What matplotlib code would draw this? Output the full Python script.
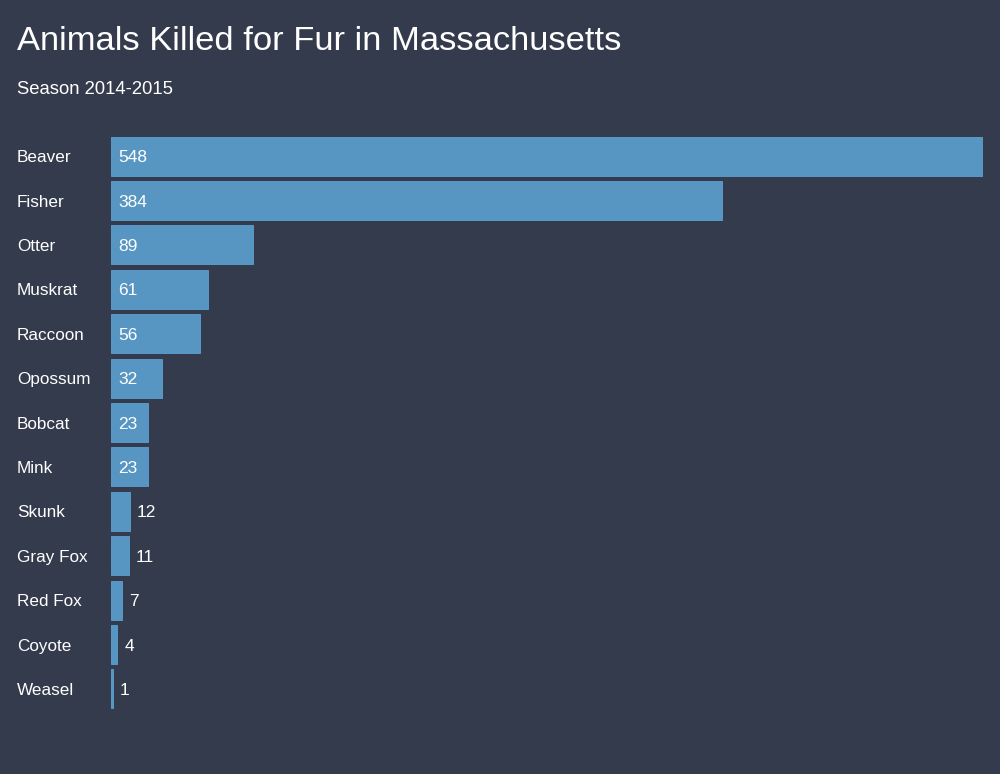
import matplotlib
matplotlib.use("Agg")
import matplotlib.pyplot as plt

# Data
ANIMALS = ["Beaver", "Fisher", "Otter", "Muskrat", "Raccoon", "Opossum",
           "Bobcat", "Mink", "Skunk", "Gray Fox", "Red Fox", "Coyote", "Weasel"]
KILLED = [548, 384, 89, 61, 56, 32, 23, 23, 12, 11, 7, 4, 1]

TITLE = "Animals Killed for Fur in Massachusetts"
SUBTITLE = "Season 2014-2015"

BG = "#343b4c"
BAR = "#5796c3"
EDGE = "#5c9fd2"
FONT = "Liberation Sans"

W, H = 1000, 774


def main():
    fig = plt.figure(figsize=(W / 100, H / 100), dpi=100, facecolor=BG)
    # axes spans x 111..983 px, y 134..711 px
    ax = fig.add_axes([111 / W, 1 - 711 / H, 872 / W, 577 / H])
    ax.set_facecolor(BG)

    ypos = list(range(len(ANIMALS)))
    ax.barh(ypos, KILLED, height=0.88, color=BAR, edgecolor=EDGE,
            linewidth=0.6)
    ax.set_xlim(0, max(KILLED))
    ax.set_ylim(len(ANIMALS) - 0.5, -0.5)
    ax.axis("off")

    px = max(KILLED) / 872.0  # data units per pixel
    dy = 1.6 / 44.3            # nudge text down ~1.6 px
    for y, name, v in zip(ypos, ANIMALS, KILLED):
        ax.text(-94 * px, y + dy, name, ha="left", va="center", color="white",
                fontsize=12.3, family=FONT, clip_on=False)
        if v * (1 / px) > 30:
            ax.text(7 * px, y + dy, str(v), ha="left", va="center",
                    color="white", fontsize=12.5, family=FONT)
        else:
            ax.text(v + 7 * px, y + dy, str(v), ha="left", va="center",
                    color="white", fontsize=12.5, family=FONT)

    fig.text(17 / W, 1 - 41 / H, TITLE, ha="left", va="center",
             color="white", fontsize=24.8, family=FONT)
    fig.text(17 / W, 1 - 90 / H, SUBTITLE, ha="left", va="center",
             color="white", fontsize=13.3, family=FONT)

    fig.savefig("out.png", dpi=100, facecolor=BG)


if __name__ == "__main__":
    main()
